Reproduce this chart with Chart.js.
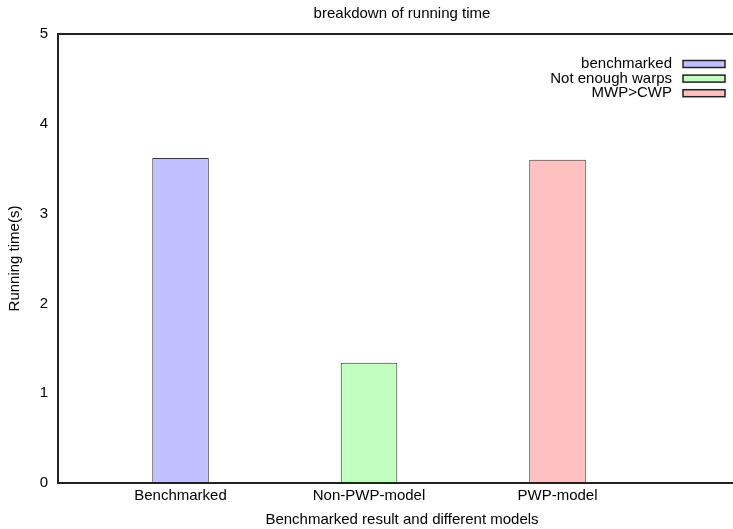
<!DOCTYPE html>
<html>
<head>
<meta charset="utf-8">
<script src="https://cdn.jsdelivr.net/npm/chart.js@4/dist/chart.umd.min.js"></script>
<style>
  html, body { margin: 0; padding: 0; background: #fff; overflow: hidden; }
  #wrap { width: 733px; height: 529px; overflow: hidden; }
  canvas { display: block; }
</style>
</head>
<body>
<div id="wrap"><canvas id="c" width="804" height="529"></canvas></div>
<script>
// Categories along the x axis
const categories = ['Benchmarked', 'Non-PWP-model', 'PWP-model'];
// One series per category (as listed in the key)
const seriesNames = ['benchmarked', 'Not enough warps', 'MWP>CWP'];
// Running time in seconds
const runningTime = [3.62, 1.34, 3.60];
// Y axis tick values
const yTicks = [0, 1, 2, 3, 4, 5];

const fills = ['#c0c0ff', '#c0ffc0', '#ffc0c0'];
const FONT = 'Liberation Sans, Arial, Helvetica, sans-serif';

const datasets = seriesNames.map((name, i) => ({
  label: name,
  data: [{ x: i, y: runningTime[i] }],
  backgroundColor: fills[i],
  borderColor: '#333',
  borderWidth: 1,
  borderSkipped: false
}));

// Frame around the plot, title and key
const framePlugin = {
  id: 'frame',
  afterDatasetsDraw(chart) {
    const { ctx, chartArea: a } = chart;
    ctx.save();
    ctx.strokeStyle = '#222';
    ctx.lineWidth = 2;
    ctx.strokeRect(a.left, a.top, a.right - a.left, a.bottom - a.top);
    ctx.restore();
  },
  afterDraw(chart) {
    const { ctx, chartArea: a } = chart;
    ctx.save();
    ctx.fillStyle = '#000';
    ctx.font = '15px ' + FONT;
    ctx.textAlign = 'center';
    ctx.textBaseline = 'middle';
    ctx.fillText('breakdown of running time', (a.left + a.right) / 2, 14);

    // key
    const textRight = 672, boxL = 683, boxW = 42, boxH = 7;
    let y = 64;
    chart.data.datasets.forEach(ds => {
      ctx.textAlign = 'right';
      ctx.fillStyle = '#000';
      ctx.fillText(ds.label, textRight, y);
      ctx.fillStyle = ds.backgroundColor;
      ctx.fillRect(boxL, y - boxH / 2, boxW, boxH);
      ctx.strokeStyle = '#222';
      ctx.lineWidth = 1.5;
      ctx.strokeRect(boxL, y - boxH / 2, boxW, boxH);
      y += 14.6;
    });
    ctx.restore();
  }
};

new Chart(document.getElementById('c'), {
  type: 'bar',
  data: { datasets },
  options: {
    responsive: false,
    animation: false,
    devicePixelRatio: 1,
    layout: { padding: { top: 34, right: 58, left: 0, bottom: 0 } },
    datasets: { bar: { grouped: false, barPercentage: 0.3, categoryPercentage: 1 } },
    plugins: { legend: { display: false }, tooltip: { enabled: false }, title: { display: false } },
    scales: {
      x: {
        type: 'linear',
        offset: false,
        min: -0.65,
        max: 3.0,
        afterBuildTicks(scale) { scale.ticks = categories.map((c, i) => ({ value: i })); },
        afterFit(scale) { scale.height = 46; },
        ticks: {
          callback: (v) => categories[v] ?? '',
          font: { family: FONT, size: 15 },
          color: '#000',
          padding: 4,
          maxRotation: 0,
          autoSkip: false
        },
        grid: { display: false, drawTicks: false, offset: false },
        border: { display: false },
        title: {
          display: true,
          text: 'Benchmarked result and different models',
          font: { family: FONT, size: 15 },
          color: '#000',
          padding: { top: 0, bottom: 0 }
        }
      },
      y: {
        min: 0,
        max: 5,
        afterBuildTicks(scale) { scale.ticks = yTicks.map(v => ({ value: v })); },
        afterFit(scale) { scale.width = 58; },
        ticks: {
          font: { family: FONT, size: 15 },
          color: '#000',
          padding: 10
        },
        grid: { display: false, drawTicks: false },
        border: { display: false },
        title: {
          display: true,
          text: 'Running time(s)',
          font: { family: FONT, size: 15 },
          color: '#000',
          padding: { top: 6, bottom: 0 }
        }
      }
    }
  },
  plugins: [framePlugin]
});
</script>
</body>
</html>
